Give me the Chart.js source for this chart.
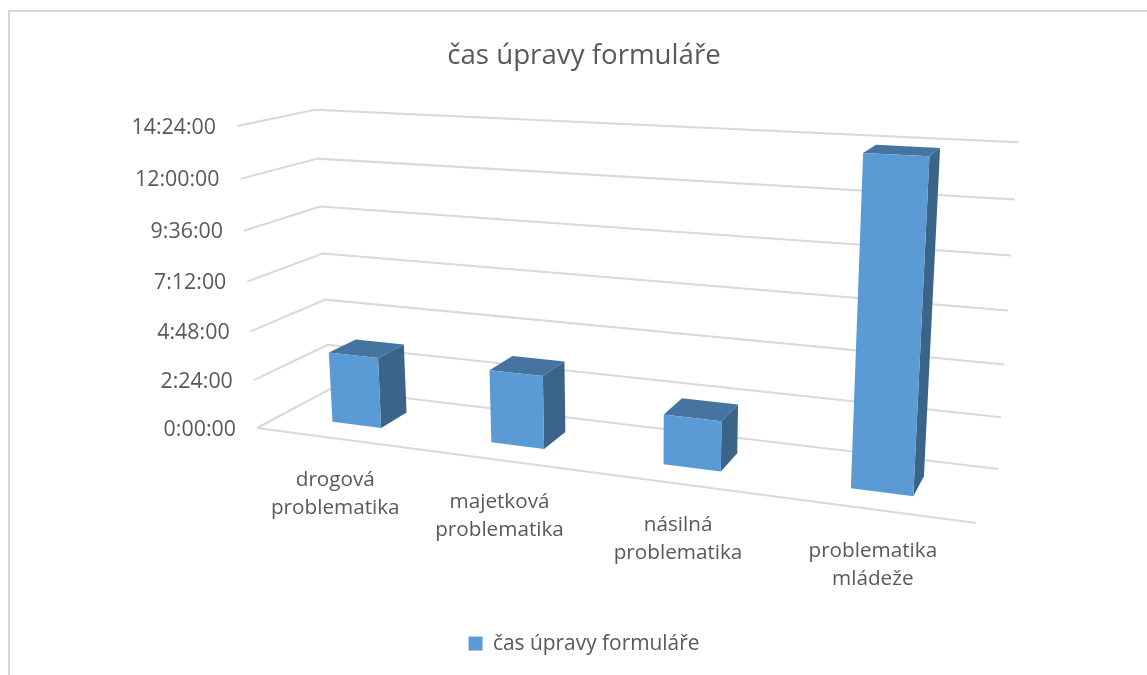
<!DOCTYPE html>
<html lang="cs">
<head>
<meta charset="utf-8">
<script src="https://cdn.jsdelivr.net/npm/chart.js@4"></script>
<style>
html,body{margin:0;padding:0;background:#fff;}
#wrap{position:absolute;left:0;top:0;width:1147px;height:675px;}
</style>
</head>
<body>
<div id="wrap"><canvas id="c" width="1147" height="675"></canvas></div>
<script>
const categories = [["drogová","problematika"],["majetková","problematika"],["násilná","problematika"],["problematika","mládeže"]];
const seriesName = "čas úpravy formuláře";
// hours of form editing
const seriesHours = [3.5, 3.5, 2.33, 14.3];
const axisMax = 14.4;
const axisStep = 2.4;

// 3D box outline on screen (projection of the plot box)
const floorQuad = [[257,428],[976,523],[998,469],[330,389]]; // front-left, front-right, back-right, back-left
const wallHeight = 302, vanishX = 639, vanishD = 5790;
const depthFront = 0.31, depthBack = 0.69, perspK = 0.06;
const colFront = "#5b9bd5", colTop = "#44749f", colSide = "#3a6488", colGrid = "#d9d9d9", colText = "#595959";
const fontFamily = "'Open Sans'";

function homography(q){
  const [[x0,y0],[x1,y1],[x2,y2],[x3,y3]] = q;
  const dx1=x1-x2, dx2=x3-x2, sx=x0-x1+x2-x3, dy1=y1-y2, dy2=y3-y2, sy=y0-y1+y2-y3;
  const det=dx1*dy2-dx2*dy1;
  const g=(sx*dy2-dx2*sy)/det, h=(dx1*sy-sx*dy1)/det;
  const a=x1-x0+g*x1, b=x3-x0+h*x3, d=y1-y0+g*y1, e=y3-y0+h*y3;
  return (u,v)=>{const w=g*u+h*v+1;return [(a*u+b*v+x0)/w,(d*u+e*v+y0)/w,w];};
}
const H0=homography(floorQuad);
function P(u,v,h){
  const t=h-perspK*h*(1-h), a=H0(u,v), L=t*wallHeight/a[2];
  return [a[0]+(a[0]-vanishX)/vanishD*L, a[1]-L];
}
function poly(ctx,pts,fill){
  ctx.beginPath();pts.forEach((p,i)=>i?ctx.lineTo(p[0],p[1]):ctx.moveTo(p[0],p[1]));ctx.closePath();
  ctx.fillStyle=fill;ctx.fill();
}
function line(ctx,pts){
  ctx.beginPath();pts.forEach((p,i)=>i?ctx.lineTo(p[0],p[1]):ctx.moveTo(p[0],p[1]));ctx.stroke();
}
const frac=(s,v)=>(v-s.min)/(s.max-s.min);
const box3d={
  id:"box3d",
  beforeDraw(chart){
    const ys=chart.scales.y, xs=chart.scales.x;
    ys.getLabelItems().forEach((it,i)=>{
      const p=P(0,0,frac(ys,ys.ticks[i].value));
      it.options.textAlign="right";
      it.options.translation=[p[0]-21,p[1]+1.5];
    });
    xs.getLabelItems().forEach((it,i)=>{
      const u=(xs.getPixelForTick(i)-xs.left)/xs.width;
      const p=P(u,0,0);
      it.options.translation=[p[0]+1,p[1]+28];
    });
  },
  beforeDatasetsDraw(chart){
    const ctx=chart.ctx, ys=chart.scales.y, xs=chart.scales.x;
    ctx.save();
    ctx.strokeStyle=colGrid;ctx.lineWidth=2;
    ys.ticks.forEach(t=>{
      const h=frac(ys,t.value);
      line(ctx,[P(0,0,h),P(0,1,h),P(1,1,h)]);
    });
    line(ctx,[P(0,0,0),P(1,0,0)]);
    chart.getDatasetMeta(0).data.forEach(el=>{
      const r=el.getProps(["x","y","base","width"],true);
      const u0=(r.x-r.width/2-xs.left)/xs.width, u1=(r.x+r.width/2-xs.left)/xs.width;
      const h=frac(ys,ys.getValueForPixel(r.y));
      const v0=depthFront, v1=depthBack;
      poly(ctx,[P(u1,v0,0),P(u1,v1,0),P(u1,v1,h),P(u1,v0,h)],colSide);
      poly(ctx,[P(u0,v0,h),P(u1,v0,h),P(u1,v1,h),P(u0,v1,h)],colTop);
      poly(ctx,[P(u0,v0,0),P(u1,v0,0),P(u1,v0,h),P(u0,v0,h)],colFront);
    });
    ctx.restore();
  },
  beforeDatasetDraw(){return false;},
  afterDraw(chart){
    const ctx=chart.ctx;
    ctx.save();ctx.strokeStyle=colGrid;ctx.lineWidth=2;
    line(ctx,[[9,675],[9,11],[1147,11]]);
    ctx.restore();
  }
};
function fmt(v){
  const m=Math.round(v*60);
  return Math.floor(m/60)+":"+String(m%60).padStart(2,"0")+":00";
}
new Chart(document.getElementById("c"),{
  type:"bar",
  plugins:[box3d],
  data:{labels:categories,datasets:[{label:seriesName,data:seriesHours,backgroundColor:colFront,categoryPercentage:0.315,barPercentage:1}]},
  options:{
    responsive:false,animation:false,
    layout:{padding:{top:39,right:0,bottom:11,left:21}},
    plugins:{
      title:{display:true,text:seriesName,color:colText,font:{family:fontFamily,size:27.7,weight:"normal"},padding:{top:0,bottom:52}},
      legend:{position:"bottom",labels:{color:colText,font:{family:fontFamily,size:20.9},boxWidth:14,boxHeight:14,padding:10}},
      tooltip:{enabled:false}
    },
    scales:{
      x:{grid:{display:false},border:{display:false},afterFit(s){s.height=197;},
         ticks:{color:colText,autoSkip:false,maxRotation:0,font:{family:fontFamily,size:20.7,lineHeight:"28px"}}},
      y:{min:0,max:axisMax,grid:{display:false},border:{display:false},afterFit(s){s.width=216;},
         ticks:{stepSize:axisStep,autoSkip:false,color:colText,font:{family:fontFamily,size:21.4},callback:fmt}}
    }
  }
});
</script>
</body>
</html>
